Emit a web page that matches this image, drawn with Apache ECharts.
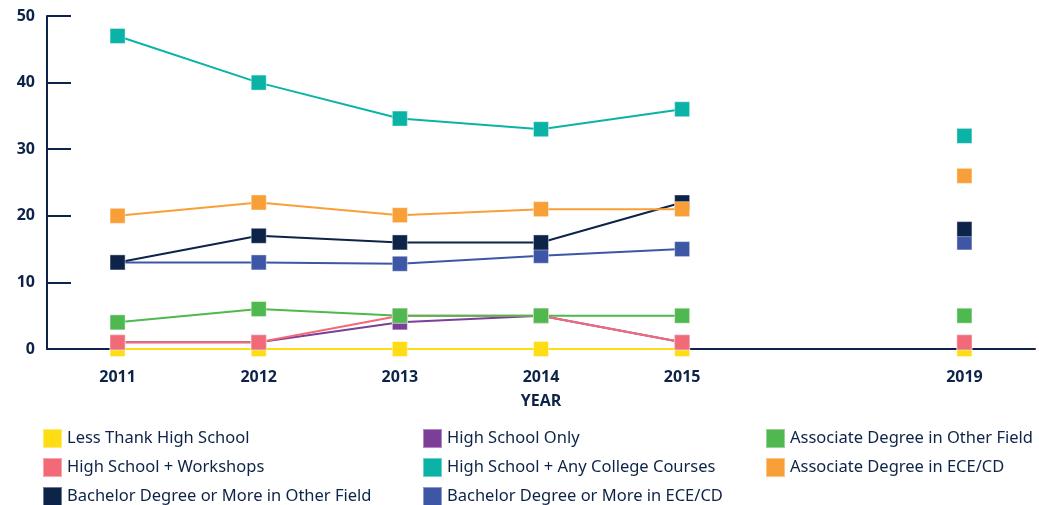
<!DOCTYPE html>
<html><head><meta charset="utf-8">
<script src="https://cdn.jsdelivr.net/npm/echarts@6/dist/echarts.min.js"></script>
<style>html,body{margin:0;padding:0;background:#fff}#c{width:1039px;height:505px}</style>
</head><body><div id="c"></div>
<script>
const years = ['2011','2012','2013','2014','2015','','2019'];
const lessThanHS     = [0, 0, 0, 0, 0, null, 0];
const hsOnly         = [1, 1, 4, 5, 1, null, 1];
const hsWorkshops    = [1, 1, 5, 5, 1, null, 1];
const assocOther     = [4, 6, 5, 5, 5, null, 5];
const bachelorECE    = [13, 13, 12.8, 14, 15, null, 16];
const bachelorOther  = [13, 17, 16, 16, 22, null, 18];
const assocECE       = [20, 22, 20.1, 21, 21, null, 26];
const hsCollege      = [47, 40, 34.6, 33, 36, null, 32];
const yTicks = [0, 10, 20, 30, 40, 50];

const navy = '#0D2347';
const defs = [
  ['Less Thank High School', lessThanHS, '#FFDD15'],
  ['High School Only', hsOnly, '#7B3F99'],
  ['High School + Workshops', hsWorkshops, '#F26A78'],
  ['Associate Degree in Other Field', assocOther, '#4FB84F'],
  ['Bachelor Degree or More in ECE/CD', bachelorECE, '#3E56A6'],
  ['Bachelor Degree or More in Other Field', bachelorOther, '#0D2347'],
  ['Associate Degree in ECE/CD', assocECE, '#F99F38'],
  ['High School + Any College Courses', hsCollege, '#0BB3A7']
];
const series = defs.map(([name, data, color]) => ({
  name, type: 'line', data, connectNulls: false,
  symbol: 'rect', symbolSize: 15,
  itemStyle: { color, borderColor: 'rgba(255,255,255,0.4)', borderWidth: 1 },
  lineStyle: { color, width: 2 },
  emphasis: { disabled: true },
  animation: false
}));
const legText = { color: navy, fontFamily: 'Noto Sans', fontSize: 16.5 };
const mkLegend = (left, data) => ({
  orient: 'vertical', left, top: 428, height: 100, padding: 0,
  itemWidth: 19, itemHeight: 19, itemGap: 8,
  icon: 'rect', textStyle: legText, data, selectedMode: false
});
const axisFont = { color: navy, fontWeight: 'bold', fontSize: 16, fontFamily: 'Open Sans' };
const chart = echarts.init(document.getElementById('c'), null, { renderer: 'canvas' });
chart.setOption({
  backgroundColor: '#fff',
  animation: false,
  grid: { left: 47, right: 4, top: 16, bottom: 156, containLabel: false },
  legend: [
    mkLegend(42, ['Less Thank High School', 'High School + Workshops', 'Bachelor Degree or More in Other Field']),
    mkLegend(422, ['High School Only', 'High School + Any College Courses', 'Bachelor Degree or More in ECE/CD']),
    mkLegend(765, ['Associate Degree in Other Field', 'Associate Degree in ECE/CD'])
  ],
  xAxis: {
    type: 'category', data: years, boundaryGap: true,
    name: 'YEAR', nameLocation: 'middle', nameGap: 44,
    nameTextStyle: axisFont,
    axisLine: { lineStyle: { color: navy, width: 2 } },
    axisTick: { inside: true, length: 6, lineStyle: { color: navy, width: 2 } },
    axisLabel: Object.assign({ margin: 20 }, axisFont)
  },
  yAxis: {
    type: 'value', min: yTicks[0], max: yTicks[yTicks.length - 1], interval: 10,
    axisLine: { show: true, lineStyle: { color: navy, width: 2 } },
    axisTick: { show: true, inside: true, length: 24, lineStyle: { color: navy, width: 2 } },
    splitLine: { show: false },
    axisLabel: Object.assign({ margin: 12 }, axisFont)
  },
  series
});
</script></body></html>
